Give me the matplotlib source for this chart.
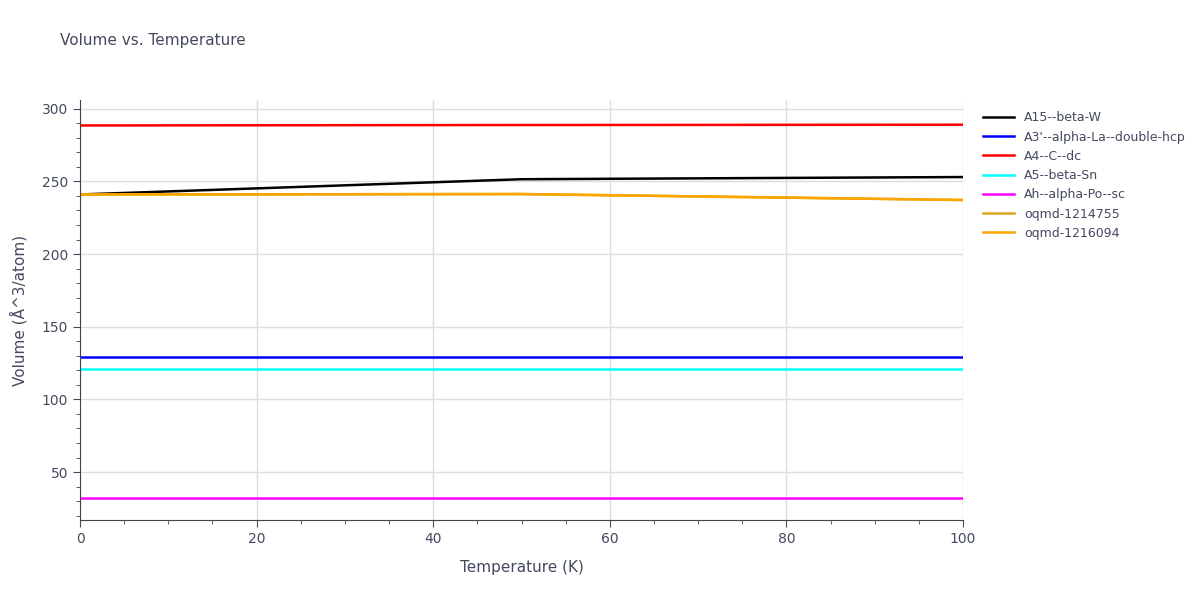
#!/usr/bin/env python3
"""Volume vs. Temperature chart."""
import matplotlib.pyplot as plt
from matplotlib.ticker import MultipleLocator

TEMPS = [0, 50, 100]
NAMES = ["A15--beta-W", "A3'--alpha-La--double-hcp", "A4--C--dc", "A5--beta-Sn",
         "Ah--alpha-Po--sc", "oqmd-1214755", "oqmd-1216094"]
VOLUMES = [
    [241.0, 251.5, 253.0],
    [129.5, 129.5, 129.5],
    [288.5, 288.8, 289.0],
    [121.0, 121.0, 121.0],
    [32.0, 32.0, 32.0],
    [241.0, 241.3, 237.2],
    [241.0, 241.3, 237.2],
]
COLORS = ["black", "blue", "red", "cyan", "magenta", "goldenrod", "orange"]
TXT = "#444a5e"

fig = plt.figure(figsize=(12, 6), dpi=100)
ax = fig.add_axes([0.0667, 0.1333, 0.7358, 0.70])
for name, vals, c in zip(NAMES, VOLUMES, COLORS):
    ax.plot(TEMPS, vals, color=c, linewidth=1.8, label=name)

ax.set_xlim(0, 100)
ax.set_ylim(17, 306)
ax.xaxis.set_major_locator(MultipleLocator(20))
ax.xaxis.set_minor_locator(MultipleLocator(5))
ax.yaxis.set_major_locator(MultipleLocator(50))
ax.yaxis.set_minor_locator(MultipleLocator(10))
ax.grid(color="#dddddd", linewidth=1)
ax.set_axisbelow(True)
for s in ["top", "right"]:
    ax.spines[s].set_visible(False)
for s in ["left", "bottom"]:
    ax.spines[s].set_color("#444444")
ax.tick_params(colors=TXT, labelsize=10, length=5)
ax.tick_params(which="minor", length=3, color="#444444")
ax.set_xlabel("Temperature (K)", color=TXT, fontsize=11, labelpad=10)
ax.set_ylabel("Volume (Å^3/atom)", color=TXT, fontsize=11, labelpad=10)
fig.text(0.05, 0.925, "Volume vs. Temperature", color=TXT, fontsize=11)
ax.legend(loc="upper left", bbox_to_anchor=(1.01, 1.0), frameon=False,
          fontsize=9, labelcolor=TXT, handlelength=2.5)

fig.savefig("out.png", dpi=100)
